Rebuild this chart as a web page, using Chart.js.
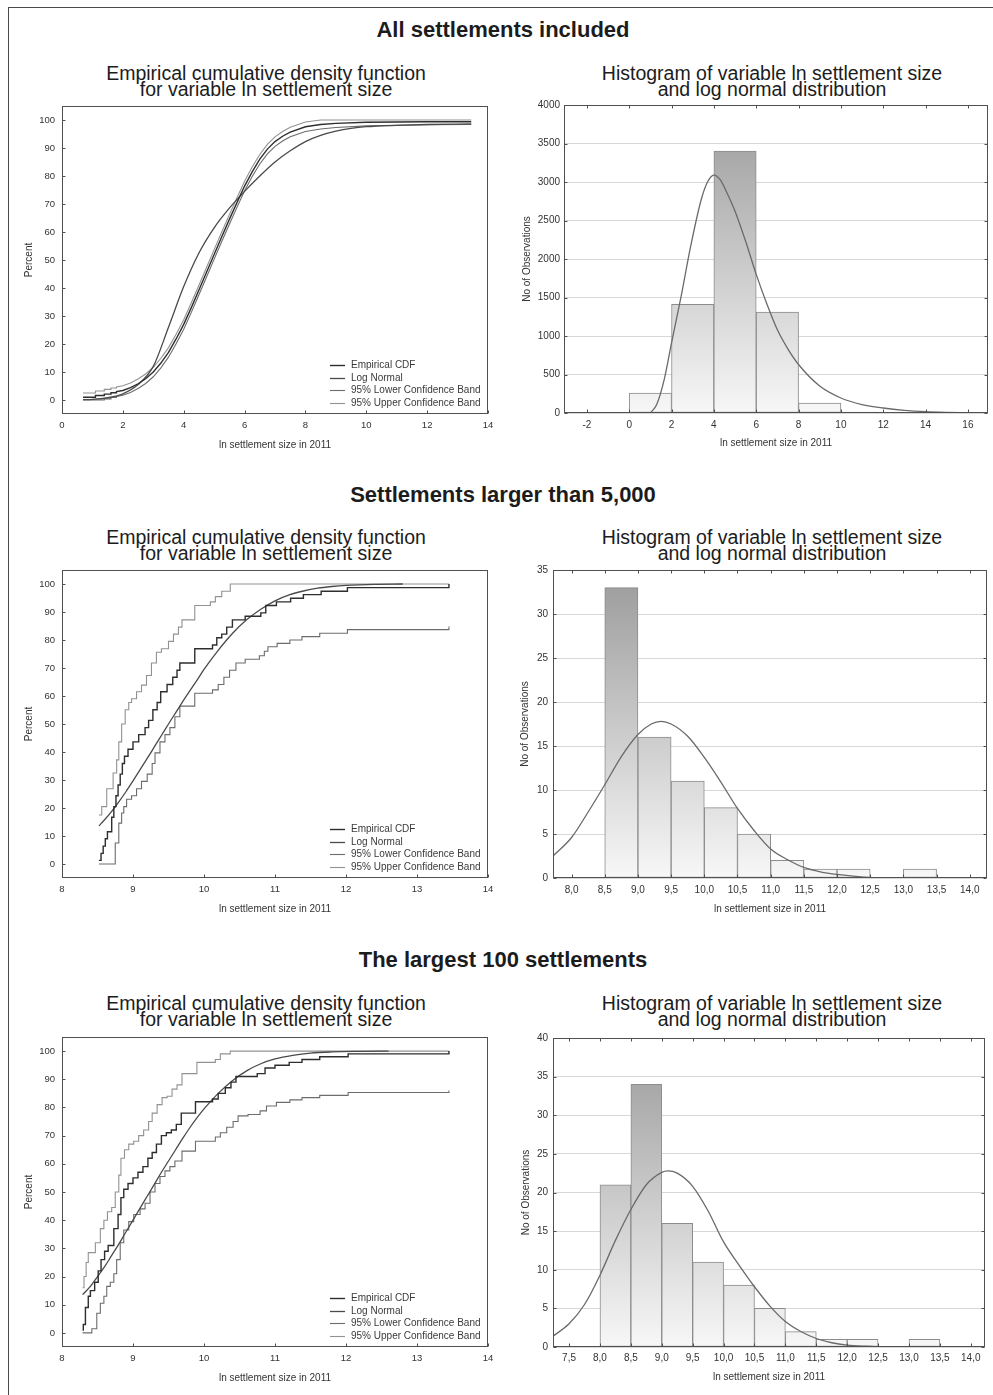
<!DOCTYPE html>
<html>
<head>
<meta charset="utf-8">
<title>Settlement size distributions</title>
<script src="https://cdn.jsdelivr.net/npm/chart.js@4.4.0/dist/chart.umd.min.js"></script>
<style>
html, body { margin: 0; padding: 0; overflow: hidden; background: #fff; }
body { position: relative; width: 993px; height: 1395px; font-family: "Liberation Sans", Arial, sans-serif; color: #1c1c1c; }
#border { position: absolute; left: 8px; top: 7px; width: 1000px; height: 1400px; border: 1px solid #4a4a4a; }
.heading { position: absolute; left: 253px; width: 500px; text-align: center; font-weight: bold; font-size: 22px; line-height: 22px; }
.ptitle { position: absolute; width: 480px; text-align: center; font-size: 19.5px; line-height: 16px; }
canvas { position: absolute; }
</style>
</head>
<body>
<div id="border"></div>

<div class="heading" style="top:19px">All settlements included</div>
<div class="ptitle" style="left:26px;top:65px">Empirical cumulative density function<br>for variable ln settlement size</div>
<div class="ptitle" style="left:532px;top:65px">Histogram of variable ln settlement size<br>and log normal distribution</div>

<div class="heading" style="top:484px">Settlements larger than 5,000</div>
<div class="ptitle" style="left:26px;top:529px">Empirical cumulative density function<br>for variable ln settlement size</div>
<div class="ptitle" style="left:532px;top:529px">Histogram of variable ln settlement size<br>and log normal distribution</div>

<div class="heading" style="top:949px">The largest 100 settlements</div>
<div class="ptitle" style="left:26px;top:995px">Empirical cumulative density function<br>for variable ln settlement size</div>
<div class="ptitle" style="left:532px;top:995px">Histogram of variable ln settlement size<br>and log normal distribution</div>

<script>
// ---- tick values ----
var cdfPercentTicks = [0, 10, 20, 30, 40, 50, 60, 70, 80, 90, 100];
var allSizeTicks = [0, 2, 4, 6, 8, 10, 12, 14];
var bigSizeTicks = [8, 9, 10, 11, 12, 13, 14];
var allHistTicksX = [-2, 0, 2, 4, 6, 8, 10, 12, 14, 16];
var allHistTicksY = [0, 500, 1000, 1500, 2000, 2500, 3000, 3500, 4000];
var k5HistTicksX = [8.0, 8.5, 9.0, 9.5, 10.0, 10.5, 11.0, 11.5, 12.0, 12.5, 13.0, 13.5, 14.0];
var k5HistTicksY = [0, 5, 10, 15, 20, 25, 30, 35];
var top100HistTicksX = [7.5, 8.0, 8.5, 9.0, 9.5, 10.0, 10.5, 11.0, 11.5, 12.0, 12.5, 13.0, 13.5, 14.0];
var top100HistTicksY = [0, 5, 10, 15, 20, 25, 30, 35, 40];

// ---- all settlements: cumulative curves [ln size, percent] ----
var allEmpirical = [[0.69,1.0],[1.10,1.0],[1.10,1.6],[1.39,1.6],[1.39,2.1],[1.61,2.1],[1.61,2.6],[1.79,2.6],[1.79,3.0],[2.0,3.4],[2.25,4.4],[2.5,5.8],[2.75,7.6],[3.0,10.0],[3.25,13.2],[3.5,17.0],[3.75,21.8],[4.0,27.0],[4.25,33.0],[4.5,39.3],[4.75,45.6],[5.0,52.0],[5.25,58.3],[5.5,64.5],[5.75,70.5],[6.0,76.4],[6.25,81.5],[6.5,86.0],[6.75,89.6],[7.0,92.3],[7.25,94.2],[7.5,95.7],[8.0,97.6],[8.5,98.4],[9.0,98.8],[10.0,99.2],[11.0,99.3],[12.0,99.4],[13.45,99.4]];
var allLogNormal = [[0.69,0.1],[1.0,0.2],[1.5,0.8],[2.0,2.2],[2.5,5.5],[3.0,12.0],[3.5,26.0],[4.0,40.5],[4.5,52.5],[5.0,61.5],[5.5,68.5],[6.0,74.5],[6.5,80.0],[7.0,85.0],[7.5,89.0],[8.0,92.3],[8.5,94.5],[9.0,96.0],[9.5,97.0],[10.0,97.6],[11.0,98.1],[12.0,98.4],[13.45,98.6]];
var allLower = [[0.69,0],[1.10,0],[1.10,0],[1.39,0],[1.39,0.4],[1.61,0.4],[1.61,0.9],[1.79,0.9],[1.79,1.3],[2.0,1.7],[2.25,2.7],[2.5,4.1],[2.75,5.9],[3.0,8.3],[3.25,11.5],[3.5,15.3],[3.75,20.1],[4.0,25.3],[4.25,31.3],[4.5,37.6],[4.75,43.9],[5.0,50.3],[5.25,56.6],[5.5,62.8],[5.75,68.8],[6.0,74.7],[6.25,79.8],[6.5,84.3],[6.75,87.9],[7.0,90.6],[7.25,92.5],[7.5,94.0],[8.0,95.9],[8.5,96.8],[9.0,97.3],[10.0,97.9],[11.0,98.1],[12.0,98.3],[13.45,98.4]];
var allUpper = [[0.69,2.5],[1.10,2.5],[1.10,3.2],[1.39,3.2],[1.39,3.8],[1.61,3.8],[1.61,4.3],[1.79,4.3],[1.79,4.7],[2.0,5.1],[2.25,6.1],[2.5,7.5],[2.75,9.3],[3.0,11.7],[3.25,14.9],[3.5,18.7],[3.75,23.5],[4.0,28.7],[4.25,34.7],[4.5,41.0],[4.75,47.3],[5.0,53.7],[5.25,60.0],[5.5,66.2],[5.75,72.2],[6.0,78.1],[6.25,83.2],[6.5,87.7],[6.75,91.3],[7.0,94.0],[7.25,95.9],[7.5,97.4],[8.0,99.3],[8.5,100],[9.0,100],[10.0,100],[11.0,100],[12.0,100],[13.45,100]];

// ---- all settlements: histogram ----
var allBinFrom = [0, 2, 4, 6, 8, 10, 12, 14];
var allBinCount = [260, 1410, 3400, 1310, 130, 13, 5, 2];
var allBinWidth = 2;
var allFitCurve = [[1.0,0],[1.3,110],[1.65,430],[2.0,910],[2.45,1510],[2.9,2160],[3.4,2770],[3.7,3000],[4.0,3090],[4.3,3030],[4.6,2870],[5.0,2620],[5.5,2230],[6.0,1800],[6.5,1420],[7.0,1080],[7.5,830],[8.0,630],[9.0,350],[10.0,195],[11.0,110],[12.0,65],[13.0,35],[14.0,17],[15.0,8],[16.0,3]];

// ---- settlements over 5,000: steps are [ln size where the step lands, new percent] ----
var k5Empirical = [[8.52,1.3],[8.55,3.8],[8.58,6.4],[8.61,9.0],[8.64,11.5],[8.70,16.7],[8.73,20.5],[8.76,24.4],[8.79,28.2],[8.82,32.1],[8.85,35.9],[8.88,38.5],[8.93,41.0],[9.00,43.6],[9.08,46.2],[9.17,48.7],[9.22,51.3],[9.28,55.1],[9.34,57.7],[9.39,61.5],[9.48,64.1],[9.56,66.7],[9.62,69.2],[9.66,71.8],[9.87,76.9],[10.12,78.2],[10.18,80.8],[10.25,82.1],[10.32,84.6],[10.40,87.2],[10.58,88.5],[10.80,89.7],[10.87,92.3],[11.02,93.6],[11.22,94.9],[11.40,96.2],[11.65,97.4],[12.02,98.7],[13.45,100]];
var k5LogNormal = [[8.52,13.6],[8.6,15.8],[8.7,18.8],[8.8,22.2],[8.9,25.8],[9.0,29.7],[9.1,33.7],[9.2,37.7],[9.3,41.8],[9.4,45.9],[9.5,50.0],[9.6,54.0],[9.7,58.0],[9.8,61.8],[9.9,65.6],[10.0,69.5],[10.2,76.3],[10.4,82.3],[10.6,87.2],[10.8,91.0],[11.0,94.0],[11.2,96.1],[11.4,97.5],[11.6,98.5],[11.8,99.1],[12.0,99.5],[12.4,99.9],[12.8,100]];
var k5Lower = [[8.52,0],[8.73,0],[8.75,7.5],[8.80,14.6],[8.84,18.2],[8.87,20.5],[8.91,23.1],[8.98,24.4],[9.05,26.9],[9.12,29.5],[9.20,32.1],[9.27,35.9],[9.31,39.7],[9.38,43.6],[9.45,46.2],[9.52,48.7],[9.59,52.6],[9.66,56.4],[9.87,61.0],[10.12,62.2],[10.20,64.1],[10.28,66.7],[10.36,69.2],[10.45,71.8],[10.58,73.1],[10.78,74.4],[10.85,76.0],[10.90,77.6],[11.03,78.8],[11.21,80.0],[11.38,81.2],[11.63,82.4],[12.02,83.7],[13.45,84.8]];
var k5Upper = [[8.52,17.5],[8.56,20.5],[8.63,26.9],[8.72,32.5],[8.77,37.2],[8.80,43.6],[8.84,50.0],[8.89,55.1],[8.94,57.7],[8.98,59.0],[9.05,61.5],[9.12,63.9],[9.19,67.3],[9.26,71.8],[9.33,75.6],[9.40,76.9],[9.50,79.5],[9.57,82.1],[9.64,84.6],[9.69,87.2],[9.87,92.3],[10.09,93.6],[10.16,95.5],[10.25,97.4],[10.37,100],[13.45,100]];

var k5BinFrom = [8.5, 9.0, 9.5, 10.0, 10.5, 11.0, 11.5, 12.0, 13.0];
var k5BinCount = [33, 16, 11, 8, 5, 2, 1, 1, 1];
var k5BinWidth = 0.5;
var k5FitCurve = [[7.72,2.5],[8.0,4.6],[8.25,7.5],[8.5,10.6],[8.75,13.8],[9.0,16.3],[9.2,17.5],[9.35,17.8],[9.5,17.5],[9.75,16.1],[10.0,13.7],[10.25,10.9],[10.5,7.9],[10.75,5.4],[11.0,3.3],[11.25,2.1],[11.5,1.2],[11.75,0.7],[12.0,0.4],[12.4,0.1],[12.85,0]];

// ---- largest 100 settlements ----
var top100Empirical = [[8.29,1],[8.30,3],[8.33,9],[8.37,13],[8.40,15],[8.46,18],[8.51,22],[8.55,26],[8.60,29],[8.65,31],[8.73,37],[8.79,42],[8.83,48],[8.87,51],[8.93,53],[9.00,55],[9.07,57],[9.14,59],[9.21,62],[9.27,64],[9.33,67],[9.40,70],[9.47,71],[9.54,72],[9.61,74],[9.68,78],[9.88,82],[10.12,83],[10.20,85],[10.30,87],[10.38,89],[10.45,91],[10.75,92],[10.86,94],[11.00,95],[11.20,96],[11.38,97],[11.63,98],[12.03,99],[13.45,100]];
var top100LogNormal = [[8.29,13.6],[8.4,16.5],[8.5,20.0],[8.6,23.5],[8.7,27.5],[8.8,31.5],[8.9,35.8],[9.0,40.0],[9.1,44.3],[9.2,48.5],[9.3,52.7],[9.4,57.0],[9.5,61.0],[9.6,65.0],[9.7,69.0],[9.8,72.8],[9.9,76.3],[10.0,79.5],[10.2,85.0],[10.4,89.5],[10.6,93.0],[10.8,95.5],[11.0,97.2],[11.25,98.5],[11.5,99.3],[11.8,99.7],[12.2,99.9],[12.6,100]];
var top100Lower = [[8.29,0],[8.42,1.5],[8.49,7],[8.54,10.5],[8.59,13],[8.63,16.5],[8.68,18],[8.73,21],[8.77,26],[8.82,32],[8.87,36.5],[8.94,39.5],[9.01,42],[9.10,44],[9.17,46],[9.24,50],[9.31,53],[9.38,55.5],[9.45,57.5],[9.52,59],[9.59,61],[9.69,64.5],[9.88,68],[10.16,69.5],[10.23,71],[10.32,73],[10.41,75],[10.48,77],[10.62,77.5],[10.79,78.8],[10.88,80.5],[11.02,81.8],[11.21,82.7],[11.38,83.5],[11.63,84.3],[12.03,85.3],[13.45,86]];
var top100Upper = [[8.29,16],[8.31,20],[8.34,25],[8.37,28.5],[8.47,32],[8.54,37],[8.59,40],[8.64,43],[8.70,44.5],[8.75,50],[8.80,56],[8.83,62],[8.88,65],[8.94,67],[9.01,68],[9.08,70],[9.15,72],[9.22,75],[9.27,78],[9.34,81],[9.41,83.5],[9.48,84],[9.55,86.5],[9.62,88],[9.69,92],[9.90,96],[10.16,97],[10.23,99],[10.37,100],[13.45,100]];

var top100BinFrom = [8.0, 8.5, 9.0, 9.5, 10.0, 10.5, 11.0, 11.5, 12.0, 13.0];
var top100BinCount = [21, 34, 16, 11, 8, 5, 2, 1, 1, 1];
var top100BinWidth = 0.5;
var top100FitCurve = [[7.24,1.4],[7.5,3.0],[7.75,5.5],[8.0,9.3],[8.25,13.8],[8.5,17.8],[8.75,21.0],[9.0,22.6],[9.1,22.8],[9.25,22.5],[9.5,20.8],[9.75,17.6],[10.0,13.6],[10.25,10.6],[10.5,7.8],[10.75,5.3],[11.0,3.3],[11.25,2.0],[11.5,1.1],[11.75,0.55],[12.0,0.25],[12.3,0.1],[12.65,0]];

var cdfStyles = [
    { label: 'Empirical CDF', color: '#2e2e2e', width: 1.4 },
    { label: 'Log Normal', color: '#4a4a4a', width: 1.3 },
    { label: '95% Lower Confidence Band', color: '#6c6c6c', width: 1.1 },
    { label: '95% Upper Confidence Band', color: '#929292', width: 1.1 }
];

Chart.defaults.font.family = '"Liberation Sans", Arial, sans-serif';
Chart.defaults.color = '#333';
Chart.defaults.animation = false;

// canvas box [left, top, width, height] and plot area [left, top, right, bottom] in page pixels
var panels = {
    allCdf:    { canvas: [14, 100, 480, 352],  area: [62, 106, 488, 414],   yTitleX: 29,  xTitleY: 445,  xTickY: 425,  gap: 7 },
    allHist:   { canvas: [505, 98, 488, 354],  area: [564, 105, 988, 413],  yTitleX: 527, xTitleY: 443,  xTickY: 425,  gap: 4 },
    k5Cdf:     { canvas: [14, 564, 480, 352],  area: [62, 570, 488, 878],   yTitleX: 29,  xTitleY: 909,  xTickY: 889,  gap: 7 },
    k5Hist:    { canvas: [500, 564, 493, 352], area: [553, 570, 987, 878],  yTitleX: 525, xTitleY: 909,  xTickY: 890,  gap: 5 },
    top100Cdf: { canvas: [14, 1031, 480, 354], area: [62, 1037, 488, 1347], yTitleX: 29,  xTitleY: 1378, xTickY: 1358, gap: 7 },
    top100Hist:{ canvas: [500, 1032, 493, 353],area: [553, 1038, 985, 1347],yTitleX: 526, xTitleY: 1377, xTickY: 1358, gap: 5 }
};

var TITLE_SIZE = 10;

function boxes(p, tickSize) {
    var c = p.canvas, a = p.area;
    var bottom = c[1] + c[3];
    return {
        padTop: a[1] - c[1],
        padRight: c[0] + c[2] - a[2],
        yWidth: a[0] - c[0],
        xHeight: bottom - a[3],
        yTitlePad: p.yTitleX - c[0] - TITLE_SIZE * 0.6,
        xTitlePad: bottom - p.xTitleY - TITLE_SIZE * 0.6,
        xTickPad: p.xTickY - a[3] - tickSize * 0.6,
        gap: p.gap
    };
}

function makeCanvas(id, c) {
    var el = document.createElement('canvas');
    el.id = id;
    el.width = c[2];
    el.height = c[3];
    el.style.left = c[0] + 'px';
    el.style.top = c[1] + 'px';
    el.style.width = c[2] + 'px';
    el.style.height = c[3] + 'px';
    document.body.appendChild(el);
    return el.getContext('2d');
}

function toPoints(pairs) {
    return pairs.map(function(p) { return { x: p[0], y: p[1] }; });
}

function fixedTicks(values) {
    return function(scale) {
        scale.ticks = values.map(function(v) { return { value: v }; });
    };
}

function xScale(b, min, max, ticks, tickSize, fmt) {
    return {
        type: 'linear', min: min, max: max, bounds: 'data',
        grid: { display: false, drawTicks: false },
        border: { display: false },
        ticks: { autoSkip: false, maxRotation: 0, padding: b.xTickPad, font: { size: tickSize }, color: '#333', callback: fmt },
        afterBuildTicks: fixedTicks(ticks),
        afterFit: function(s) { s.height = b.xHeight; s.paddingLeft = 0; s.paddingRight = 0; },
        title: { display: true, text: 'ln settlement size in 2011', font: { size: TITLE_SIZE }, color: '#333', padding: { top: 0, bottom: b.xTitlePad } }
    };
}

function yScale(b, min, max, ticks, tickSize, title, gridOn) {
    return {
        type: 'linear', min: min, max: max, bounds: 'data',
        grid: { display: gridOn, drawTicks: false, color: '#d8d8d8', lineWidth: 1 },
        border: { display: false },
        ticks: { autoSkip: false, padding: b.gap, font: { size: tickSize }, color: '#333', callback: function(v) { return String(v); } },
        afterBuildTicks: fixedTicks(ticks),
        afterFit: function(s) { s.width = b.yWidth; s.paddingTop = 0; s.paddingBottom = 0; },
        title: { display: true, text: title, font: { size: TITLE_SIZE }, color: '#333', padding: { top: b.yTitlePad, bottom: 0 } }
    };
}

// box round the plot area plus short inward tick marks
var framePlugin = {
    id: 'plotFrame',
    afterDraw: function(chart, args, opts) {
        var ctx = chart.ctx, a = chart.chartArea;
        var xs = chart.scales.x, ys = chart.scales.y;
        var l = Math.round(a.left) + 0.5, r = Math.round(a.right) - 0.5;
        var t = Math.round(a.top) + 0.5, btm = Math.round(a.bottom) - 0.5;
        ctx.save();
        ctx.strokeStyle = '#505050';
        ctx.lineWidth = 1;
        ctx.strokeRect(l, t, r - l, btm - t);
        ctx.beginPath();
        xs.ticks.forEach(function(tk) {
            var px = Math.round(xs.getPixelForValue(tk.value)) + 0.5;
            ctx.moveTo(px, btm); ctx.lineTo(px, btm - 3);
            if (opts.allSides) { ctx.moveTo(px, t); ctx.lineTo(px, t + 3); }
        });
        ys.ticks.forEach(function(tk) {
            var py = Math.round(ys.getPixelForValue(tk.value)) + 0.5;
            ctx.moveTo(l, py); ctx.lineTo(l + 3, py);
            if (opts.allSides) { ctx.moveTo(r, py); ctx.lineTo(r - 3, py); }
        });
        ctx.stroke();
        ctx.restore();
    }
};

// small key in the lower right corner of the cdf plots
var cdfKeyPlugin = {
    id: 'cdfKey',
    afterDatasetsDraw: function(chart) {
        var ctx = chart.ctx, a = chart.chartArea;
        ctx.save();
        ctx.font = '10px "Liberation Sans", Arial, sans-serif';
        ctx.textBaseline = 'middle';
        ctx.textAlign = 'left';
        chart.data.datasets.forEach(function(ds, i) {
            var y = Math.round(a.bottom - 49 + i * 12.6) + 0.5;
            ctx.strokeStyle = ds.borderColor;
            ctx.lineWidth = ds.borderWidth;
            ctx.beginPath();
            ctx.moveTo(a.right - 158, y);
            ctx.lineTo(a.right - 143, y);
            ctx.stroke();
            ctx.fillStyle = '#3a3a3a';
            ctx.fillText(ds.label, a.right - 137, y);
        });
        ctx.restore();
    }
};

function cdfPanel(id, p, xMin, xMax, xTicks, series) {
    var tickSize = 9.5;
    var b = boxes(p, tickSize);
    var ctx = makeCanvas(id, p.canvas);
    var datasets = series.map(function(s, i) {
        return {
            label: cdfStyles[i].label,
            data: toPoints(s.points),
            showLine: true,
            stepped: s.stepped ? 'before' : false,
            cubicInterpolationMode: s.smooth ? 'monotone' : 'default',
            borderColor: cdfStyles[i].color,
            borderWidth: cdfStyles[i].width,
            pointRadius: 0,
            pointHoverRadius: 0
        };
    });
    return new Chart(ctx, {
        type: 'scatter',
        data: { datasets: datasets },
        options: {
            responsive: false,
            layout: { padding: { top: b.padTop, right: b.padRight, bottom: 0, left: 0 } },
            plugins: { legend: { display: false }, tooltip: { enabled: false }, plotFrame: { allSides: false } },
            scales: {
                x: xScale(b, xMin, xMax, xTicks, tickSize, function(v) { return String(v); }),
                y: yScale(b, -5, 105, cdfPercentTicks, tickSize, 'Percent', false)
            }
        },
        plugins: [framePlugin, cdfKeyPlugin]
    });
}

function barFill(context) {
    var chart = context.chart, a = chart.chartArea;
    if (!a) return '#dddddd';
    var g = chart.ctx.createLinearGradient(0, a.bottom, 0, a.top);
    g.addColorStop(0, '#f7f7f7');
    g.addColorStop(1, '#9a9a9a');
    return g;
}

function histPanel(id, p, xMin, xMax, xTicks, yMax, yTicks, binFrom, binCount, binWidth, curve, fmt) {
    var tickSize = 10;
    var b = boxes(p, tickSize);
    var ctx = makeCanvas(id, p.canvas);
    var bars = binFrom.map(function(f, i) { return { x: f + binWidth / 2, y: binCount[i] }; });
    return new Chart(ctx, {
        type: 'bar',
        data: {
            datasets: [{
                type: 'line',
                label: 'Log normal',
                data: toPoints(curve),
                borderColor: '#6a6a6a',
                borderWidth: 1.3,
                cubicInterpolationMode: 'monotone',
                pointRadius: 0,
                pointHoverRadius: 0
            }, {
                type: 'bar',
                label: 'No of obs',
                data: bars,
                backgroundColor: barFill,
                borderColor: '#8c8c8c',
                borderWidth: 1,
                borderSkipped: false,
                barPercentage: 1,
                categoryPercentage: 1
            }]
        },
        options: {
            responsive: false,
            layout: { padding: { top: b.padTop, right: b.padRight, bottom: 0, left: 0 } },
            plugins: { legend: { display: false }, tooltip: { enabled: false }, plotFrame: { allSides: true } },
            scales: {
                x: Object.assign(xScale(b, xMin, xMax, xTicks, tickSize, fmt), { offset: false }),
                y: yScale(b, 0, yMax, yTicks, tickSize, 'No of Observations', true)
            }
        },
        plugins: [framePlugin]
    });
}

function commaDecimal(v) {
    return v.toFixed(1).replace('.', ',');
}

cdfPanel('allCdf', panels.allCdf, 0, 14, allSizeTicks, [
    { points: allEmpirical }, { points: allLogNormal, smooth: true }, { points: allLower }, { points: allUpper }
]);
histPanel('allHist', panels.allHist, -3.08, 16.95, allHistTicksX, 4000, allHistTicksY,
    allBinFrom, allBinCount, allBinWidth, allFitCurve, function(v) { return String(v); });

cdfPanel('k5Cdf', panels.k5Cdf, 8, 14, bigSizeTicks, [
    { points: k5Empirical, stepped: true }, { points: k5LogNormal, smooth: true },
    { points: k5Lower, stepped: true }, { points: k5Upper, stepped: true }
]);
histPanel('k5Hist', panels.k5Hist, 7.72, 14.26, k5HistTicksX, 35, k5HistTicksY,
    k5BinFrom, k5BinCount, k5BinWidth, k5FitCurve, commaDecimal);

cdfPanel('top100Cdf', panels.top100Cdf, 8, 14, bigSizeTicks, [
    { points: top100Empirical, stepped: true }, { points: top100LogNormal, smooth: true },
    { points: top100Lower, stepped: true }, { points: top100Upper, stepped: true }
]);
histPanel('top100Hist', panels.top100Hist, 7.24, 14.23, top100HistTicksX, 40, top100HistTicksY,
    top100BinFrom, top100BinCount, top100BinWidth, top100FitCurve, commaDecimal);
</script>
</body>
</html>
